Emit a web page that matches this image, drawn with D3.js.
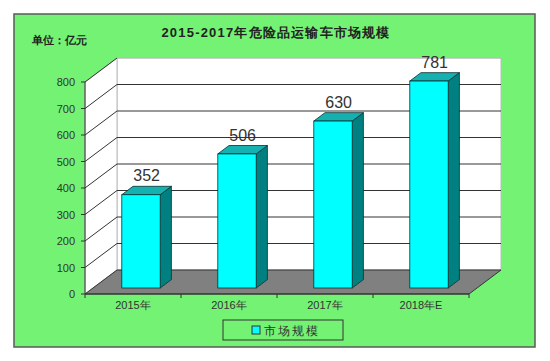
<!DOCTYPE html>
<html>
<head>
<meta charset="utf-8">
<script src="https://cdn.jsdelivr.net/npm/d3@7"></script>
<style>
  body { margin: 0; background: #fff; }
  text { font-family: "Liberation Sans", Arial, sans-serif; }
</style>
</head>
<body>
<div id="chart"></div>
<script>
var categories = ["2015年", "2016年", "2017年", "2018年E"]
var values = [352, 506, 630, 781]
var yTicks = [0, 100, 200, 300, 400, 500, 600, 700, 800]
var title = "2015-2017年危险品运输车市场规模"
var unitLabel = "单位：亿元"
var seriesName = "市场规模"

var width = 550, height = 361
var svg = d3.select("#chart").append("svg")
    .attr("width", width)
    .attr("height", height)

// green frame
svg.append("rect")
    .attr("x", 14).attr("y", 14)
    .attr("width", 521).attr("height", 333)
    .attr("fill", "#74f274")
    .attr("stroke", "#5a5a5a")
    .attr("stroke-width", 1.5)

svg.append("text")
    .attr("x", 276).attr("y", 37)
    .attr("text-anchor", "middle")
    .attr("font-size", 13).attr("font-weight", "bold")
    .attr("letter-spacing", 1.2)
    .attr("fill", "#222")
    .text(title)

svg.append("text")
    .attr("x", 32).attr("y", 44)
    .attr("font-size", 11).attr("font-weight", "bold")
    .attr("fill", "#222")
    .text(unitLabel)

var x = d3.scaleBand().domain(categories).range([85, 469]).padding(0)
var y = d3.scaleLinear().domain([0, 800]).range([294, 82])
var dx = 32, dy = -24   // depth of the 3d box

var left = x.range()[0], right = x.range()[1]

// back wall
svg.append("rect")
    .attr("x", left + dx).attr("y", y(800) + dy)
    .attr("width", right - left).attr("height", y(0) - y(800))
    .attr("fill", "#fff")
    .attr("stroke", "#bbb")

// left wall
svg.append("path")
    .attr("d", d3.line()([[left, y(0)], [left, y(800)], [left + dx, y(800) + dy], [left + dx, y(0) + dy]]) + "Z")
    .attr("fill", "#fff")
    .attr("stroke", "#bbb")

// gridlines
var grid = yTicks.filter(function(d) { return d > 0 })
svg.selectAll(".gridBack").data(grid).enter().append("line")
    .attr("x1", left + dx).attr("x2", right + dx)
    .attr("y1", function(d) { return y(d) + dy })
    .attr("y2", function(d) { return y(d) + dy })
    .attr("stroke", function(d) { return d == 800 ? "#bbb" : "#333" })
    .attr("stroke-width", 1)
svg.selectAll(".gridSide").data(grid).enter().append("line")
    .attr("x1", left).attr("x2", left + dx)
    .attr("y1", function(d) { return y(d) })
    .attr("y2", function(d) { return y(d) + dy })
    .attr("stroke", "#333")
    .attr("stroke-width", 1)

// floor
svg.append("path")
    .attr("d", d3.line()([[left, y(0)], [right, y(0)], [right + dx, y(0) + dy], [left + dx, y(0) + dy]]) + "Z")
    .attr("fill", "#808080")
    .attr("stroke", "#333")
    .attr("stroke-width", 1)

// axes
svg.append("line")
    .attr("x1", left).attr("x2", left)
    .attr("y1", y(0)).attr("y2", y(800))
    .attr("stroke", "#333")
svg.append("line")
    .attr("x1", left).attr("x2", right)
    .attr("y1", y(0)).attr("y2", y(0))
    .attr("stroke", "#333")

svg.selectAll(".ytick").data(yTicks).enter().append("line")
    .attr("x1", left - 4).attr("x2", left)
    .attr("y1", function(d) { return y(d) })
    .attr("y2", function(d) { return y(d) })
    .attr("stroke", "#333")
svg.selectAll(".ylab").data(yTicks).enter().append("text")
    .attr("x", 75)
    .attr("y", function(d) { return y(d) + 4 })
    .attr("text-anchor", "end")
    .attr("font-size", 11)
    .attr("fill", "#333")
    .text(function(d) { return d })

var bounds = categories.map(function(c) { return x(c) }).concat([right])
svg.selectAll(".xtick").data(bounds).enter().append("line")
    .attr("x1", function(d) { return d }).attr("x2", function(d) { return d })
    .attr("y1", y(0)).attr("y2", y(0) + 4)
    .attr("stroke", "#333")
svg.selectAll(".xlab").data(categories).enter().append("text")
    .attr("x", function(d) { return x(d) + x.bandwidth() / 2 })
    .attr("y", 309)
    .attr("text-anchor", "middle")
    .attr("font-size", 11)
    .attr("fill", "#333")
    .text(function(d) { return d })

// bars
var f0 = 0.25, f1 = 0.6
var bw = x.bandwidth() * 0.4
var bars = svg.selectAll(".bar").data(values).enter().append("g")

function barGeom(d, i) {
    var x0 = x(categories[i]) + (x.bandwidth() - bw) / 2 + dx * f0
    var yb = y(0) + dy * f0
    var yt = y(d) + dy * f0
    var ox = dx * (f1 - f0), oy = dy * (f1 - f0)
    return { x0: x0, x1: x0 + bw, yb: yb, yt: yt, ox: ox, oy: oy }
}

bars.append("path")
    .attr("d", function(d, i) {
        var g = barGeom(d, i)
        return d3.line()([[g.x1, g.yb], [g.x1, g.yt], [g.x1 + g.ox, g.yt + g.oy], [g.x1 + g.ox, g.yb + g.oy]]) + "Z"
    })
    .attr("fill", "#008080").attr("stroke", "#0a3030").attr("stroke-width", 0.8)
bars.append("path")
    .attr("d", function(d, i) {
        var g = barGeom(d, i)
        return d3.line()([[g.x0, g.yt], [g.x1, g.yt], [g.x1 + g.ox, g.yt + g.oy], [g.x0 + g.ox, g.yt + g.oy]]) + "Z"
    })
    .attr("fill", "#15b0b0").attr("stroke", "#0a3030").attr("stroke-width", 0.8)
bars.append("rect")
    .attr("x", function(d, i) { return barGeom(d, i).x0 })
    .attr("y", function(d, i) { return barGeom(d, i).yt })
    .attr("width", bw)
    .attr("height", function(d, i) { var g = barGeom(d, i); return g.yb - g.yt })
    .attr("fill", "#00ffff").attr("stroke", "#0a3030").attr("stroke-width", 0.8)
bars.append("text")
    .attr("x", function(d, i) { var g = barGeom(d, i); return (g.x0 + g.x1 + g.ox) / 2 })
    .attr("y", function(d, i) { var g = barGeom(d, i); return g.yt + g.oy - 5 })
    .attr("text-anchor", "middle")
    .attr("font-size", 16)
    .attr("fill", "#333")
    .text(function(d) { return d })

// legend
var legend = svg.append("g")
legend.append("rect")
    .attr("x", 223).attr("y", 320)
    .attr("width", 120).attr("height", 20)
    .attr("fill", "none").attr("stroke", "#333").attr("stroke-width", 1)
legend.append("rect")
    .attr("x", 252).attr("y", 326)
    .attr("width", 8).attr("height", 8)
    .attr("fill", "#00ffff").attr("stroke", "#333")
legend.append("text")
    .attr("x", 264).attr("y", 335)
    .attr("font-size", 12)
    .attr("letter-spacing", 2)
    .attr("fill", "#333")
    .text(seriesName)
</script>
</body>
</html>
